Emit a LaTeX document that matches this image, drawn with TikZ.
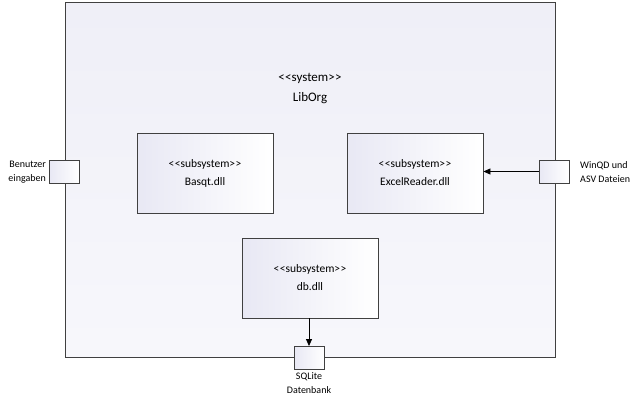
\documentclass[tikz,border=0pt]{standalone}
\usepackage{fontspec}
\setmainfont{Carlito}
\usetikzlibrary{arrows.meta,shadows}
\definecolor{bordc}{HTML}{404040}
\definecolor{lav}{HTML}{E8E8F4}
\definecolor{syslav}{HTML}{F2F2F9}
\newcommand\stL{<\kern0.4pt<}
\newcommand\stR{>\kern0.4pt>}
\tikzset{
  sysbox/.style={draw=bordc, line width=0.9pt, left color=lav!70, right color=syslav!60!white, shading angle=0},
  subbox/.style={draw=bordc, line width=0.9pt, left color=lav, right color=white, minimum width=136pt, minimum height=80pt, align=center, font=\fontsize{11.5}{18}\selectfont, inner sep=0pt},
  portbox/.style={draw=bordc, line width=0.9pt, left color=lav, right color=white, minimum width=30pt, minimum height=23pt, inner sep=0pt},
  lbl/.style={font=\fontsize{10}{14}\selectfont, inner sep=0pt},
  conn/.style={draw=black, line width=0.8pt, -{Triangle[length=7pt,width=6pt]}}
}
\begin{document}
\begin{tikzpicture}[x=1pt,y=-1pt]
\useasboundingbox (0,0) rectangle (639,400);
\node[sysbox, minimum width=490pt, minimum height=355pt, inner sep=0pt] (sys) at (310,179.5) {};
\node[align=center, font=\fontsize{13}{20}\selectfont] (systxt) at (310,88.5) {\stL system\stR\\LibOrg};
\node[subbox] (basqt) at (205,173) {\stL subsystem\stR\\Basqt.dll};
\node[subbox] (excel) at (415,173) {\stL subsystem\stR\\ExcelReader.dll};
\node[subbox] (db) at (310,278) {\stL subsystem\stR\\db.dll};
\node[portbox] (pl) at (64.5,171.5) {};
\node[portbox] (pr) at (554,171.5) {};
\node[portbox] (pb) at (309,358) {};
\node[lbl, align=right, anchor=east] (lpl) at (46,172) {Benutzer\\eingaben};
\node[lbl, align=left, anchor=west] (lpr) at (580,172) {WinQD und\\ASV Dateien};
\node[lbl, align=center, anchor=north] (lpb) at (309,372.5) {SQLite\\Datenbank};
\draw[conn] (pr.west) -- (excel.east |- pr.west);
\draw[conn] (db.south -| pb.north) -- (pb.north);
\end{tikzpicture}
\end{document}
